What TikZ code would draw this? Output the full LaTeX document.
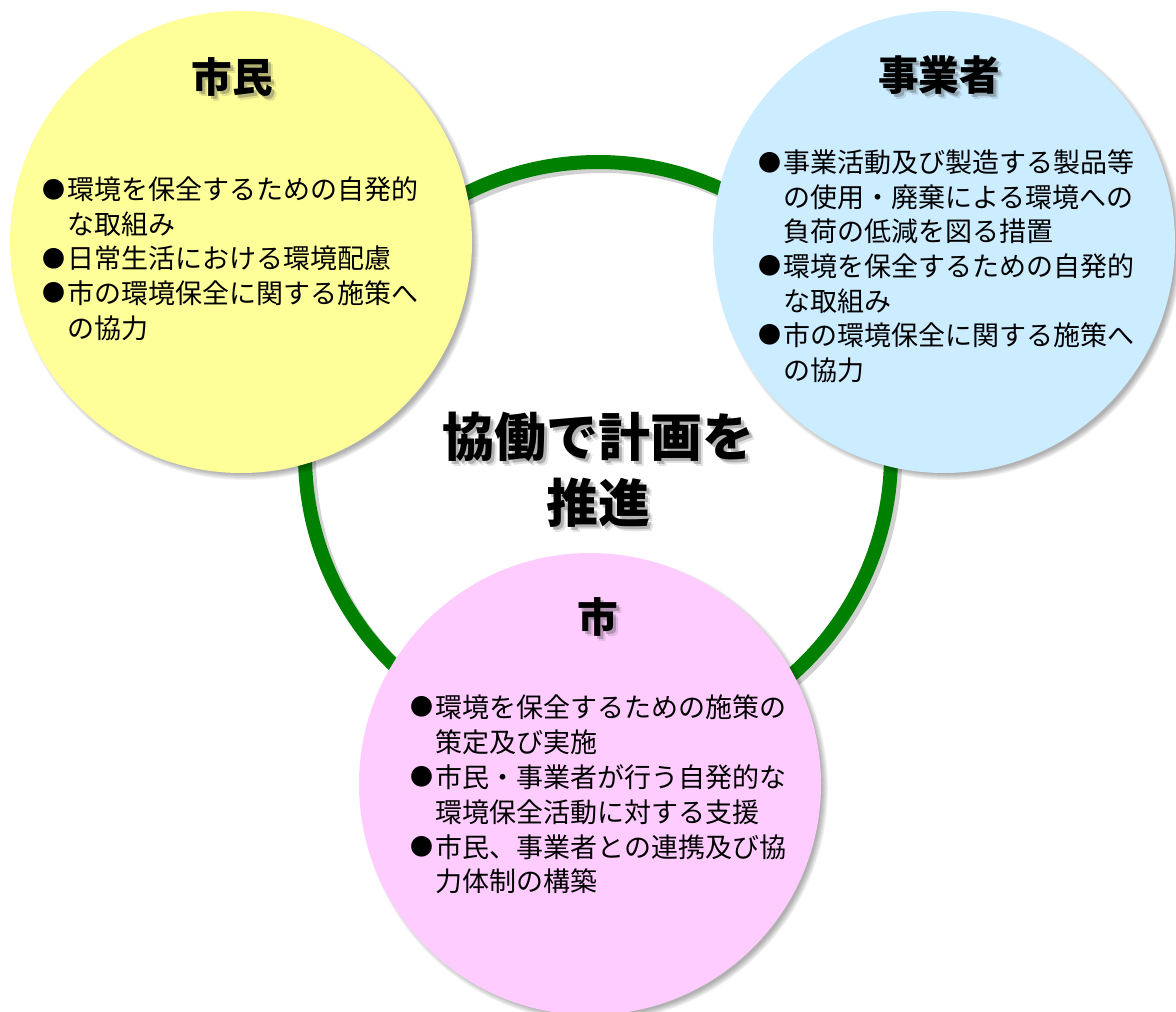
\documentclass[tikz,border=0pt]{standalone}
\usepackage{fontspec}
\setmainfont{Noto Sans CJK JP}
\newfontfamily\heavyfont{Noto Sans CJK JP Black}
\definecolor{yel}{HTML}{FFFF99}
\definecolor{blu}{HTML}{CCECFF}
\definecolor{pnk}{HTML}{FFCCFF}
\definecolor{grn}{HTML}{008000}
\newcommand\bodyfnt{\fontsize{20.25pt}{26pt}\selectfont}
\newcommand\titlefnt{\fontsize{30.5pt}{36pt}\selectfont\heavyfont}
\newcommand\centerfnt{\fontsize{39pt}{46pt}\selectfont\heavyfont}
\newcommand\bul{\makebox[1em][c]{\raisebox{0.06em}{\scalebox{0.85}{●}}}}
\tikzset{
  body/.style={font=\bodyfnt, anchor=base west, inner sep=0pt},
  bubble/.style={circle, inner sep=0pt, minimum size=346.5pt},
  ringline/.style={line width=10.5pt},
}
\newcommand\circshadow[3]{%
  \foreach \k in {0,...,6}{\fill[black,opacity=0.05] (#1+4,#2+4) circle[radius={(#3+3-\k)*0.75pt}];}}
\newcommand\shtext[5]{%
  \foreach \d/\o in {3/0.3,5/0.15}{\node[font=#4,text=black!75,opacity=\o,inner sep=0pt] (#1-s\d) at (#2+\d,#3+\d) {#5};}
  \node[font=#4,inner sep=0pt] (#1) at (#2,#3) {#5};}
\newcommand\bl[4]{\node[body] (#1) at (#2,#3) {#4};}
\begin{document}
\begin{tikzpicture}[x=0.75pt,y=-0.75pt]
\useasboundingbox (0,0) rectangle (1176,1012);
% ring
\draw[ringline, black, opacity=0.18] (602,459) circle[radius=219.75pt];
\draw[ringline, grn] (598,455) circle[radius=219.75pt];
% circles
\circshadow{241}{242}{231}
\node[bubble, fill=yel] (shimin) at (241,242) {};
\circshadow{944}{242}{231}
\node[bubble, fill=blu] (jigyo) at (944,242) {};
\circshadow{590}{784}{231}
\node[bubble, fill=pnk] (shi) at (590,784) {};
% titles
\shtext{tShimin}{232}{77}{\titlefnt}{市民}
\shtext{tJigyo}{939}{75}{\titlefnt}{事業者}
\shtext{tShi}{598}{617}{\titlefnt}{市}
\shtext{tC1}{598}{437}{\centerfnt}{協働で計画を}
\shtext{tC2}{598}{503}{\centerfnt}{推進}
% shimin body
\bl{y1}{40}{200}{\bul 環境を保全するための自発的}
\bl{y2}{67}{234.5}{な取組み}
\bl{y3}{40}{269}{\bul 日常生活における環境配慮}
\bl{y4}{40}{303.5}{\bul 市の環境保全に関する施策へ}
\bl{y5}{67}{338}{の協力}
% jigyosha body
\bl{b1}{756}{173}{\bul 事業活動及び製造する製品等}
\bl{b2}{783}{207.5}{の使用・廃棄による環境への}
\bl{b3}{783}{242}{負荷の低減を図る措置}
\bl{b4}{756}{276.5}{\bul 環境を保全するための自発的}
\bl{b5}{783}{311}{な取組み}
\bl{b6}{756}{345.5}{\bul 市の環境保全に関する施策へ}
\bl{b7}{783}{380}{の協力}
% shi body
\bl{p1}{408}{717}{\bul 環境を保全するための施策の}
\bl{p2}{435}{752}{策定及び実施}
\bl{p3}{408}{787}{\bul 市民・事業者が行う自発的な}
\bl{p4}{435}{822}{環境保全活動に対する支援}
\bl{p5}{408}{857}{\bul 市民、事業者との連携及び協}
\bl{p6}{435}{891}{力体制の構築}
\end{tikzpicture}
\end{document}
